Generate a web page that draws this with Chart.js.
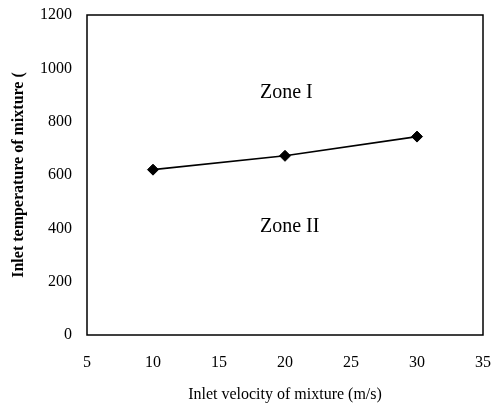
<!DOCTYPE html>
<html>
<head>
<meta charset="utf-8">
<script src="https://cdn.jsdelivr.net/npm/chart.js@4/dist/chart.umd.min.js"></script>
<style>
  body { margin: 0; background: #fff; }
  #wrap { width: 500px; height: 405px; }
</style>
</head>
<body>
<div id="wrap"><canvas id="chart" width="500" height="405"></canvas></div>
<script>
// inlet velocity (m/s) vs. inlet temperature boundary
const velocity = [10, 20, 30];
const temperature = [620, 672, 744];

const xTicks = [5, 10, 15, 20, 25, 30, 35];
const yTicks = [0, 200, 400, 600, 800, 1000, 1200];

const zoneNames = ["Zone I", "Zone II"];
const zoneX = [18.1, 18.1];
const zoneY = [907, 405];

const serif = "'Liberation Serif', 'Times New Roman', serif";

// box around the plot area and the two zone captions
const framePlugin = {
  id: "frame",
  afterDatasetsDraw(chart) {
    const { ctx, chartArea, scales } = chart;
    ctx.save();
    ctx.strokeStyle = "#000";
    ctx.lineWidth = 1.5;
    ctx.strokeRect(chartArea.left, chartArea.top,
      chartArea.right - chartArea.left, chartArea.bottom - chartArea.top);

    ctx.fillStyle = "#000";
    ctx.font = "20px " + serif;
    ctx.textAlign = "left";
    ctx.textBaseline = "middle";
    zoneNames.forEach((name, i) => {
      ctx.fillText(name, scales.x.getPixelForValue(zoneX[i]), scales.y.getPixelForValue(zoneY[i]));
    });
    ctx.restore();
  }
};

new Chart(document.getElementById("chart"), {
  type: "line",
  data: {
    datasets: [{
      data: velocity.map((v, i) => ({ x: v, y: temperature[i] })),
      borderColor: "#000",
      borderWidth: 1.6,
      backgroundColor: "#000",
      pointStyle: "rectRot",
      pointRadius: 5.5,
      pointBorderWidth: 1,
      tension: 0,
      fill: false
    }]
  },
  options: {
    responsive: false,
    animation: false,
    layout: { padding: { left: 0, top: 15, right: 17, bottom: 0 } },
    plugins: {
      legend: { display: false },
      tooltip: { enabled: false }
    },
    scales: {
      x: {
        type: "linear",
        min: 5,
        max: 35,
        afterBuildTicks: (s) => { s.ticks = xTicks.map(v => ({ value: v })); },
        afterFit: (s) => { s.height = 70; s.paddingLeft = 0; s.paddingRight = 0; },
        grid: { display: false, drawTicks: false },
        border: { display: false },
        ticks: {
          color: "#000",
          padding: 18,
          callback: (v) => String(v),
          font: { family: serif, size: 16 }
        },
        title: {
          display: true,
          text: "Inlet velocity of mixture (m/s)",
          color: "#000",
          font: { family: serif, size: 16 },
          padding: { top: 0, bottom: 1 }
        }
      },
      y: {
        type: "linear",
        min: 0,
        max: 1200,
        afterBuildTicks: (s) => { s.ticks = yTicks.map(v => ({ value: v })); },
        afterFit: (s) => { s.width = 87; s.paddingTop = 0; s.paddingBottom = 0; },
        grid: { display: false, drawTicks: false },
        border: { display: false },
        ticks: {
          color: "#000",
          padding: 15,
          callback: (v) => String(v),
          font: { family: serif, size: 16 }
        },
        title: {
          display: true,
          text: "Inlet temperature of mixture (",
          color: "#000",
          font: { family: serif, size: 16, weight: "bold" },
          padding: { top: 9, bottom: 0 }
        }
      }
    }
  },
  plugins: [framePlugin]
});
</script>
</body>
</html>
